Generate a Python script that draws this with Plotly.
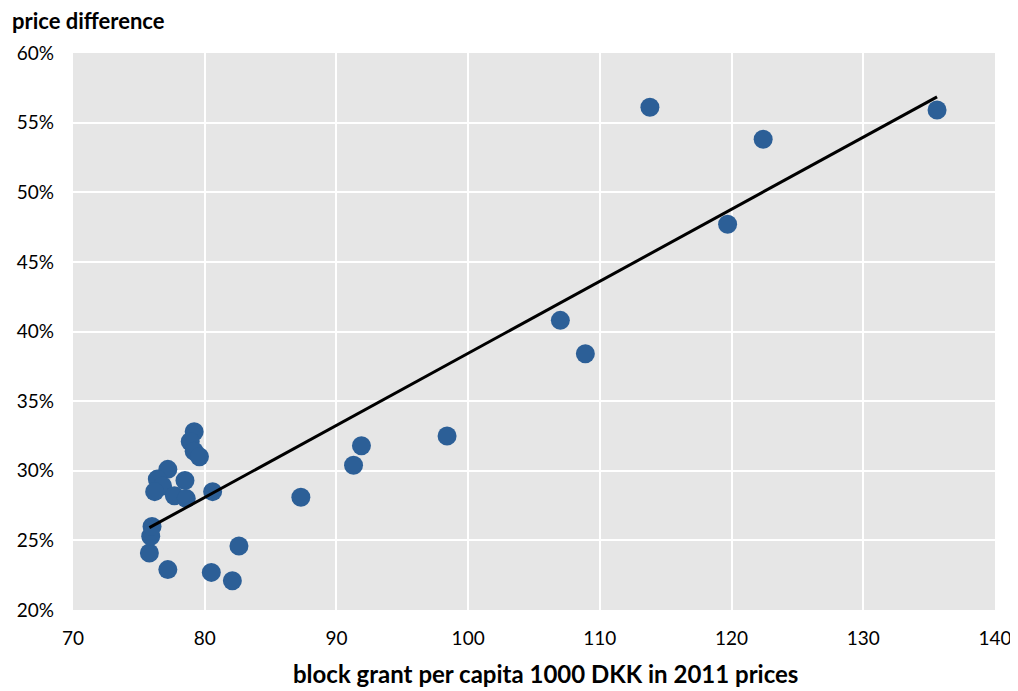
import numpy as np
import plotly.graph_objects as go

block_grant = [113.8, 135.6, 122.4, 119.7, 107.0, 108.9, 98.4, 91.9, 91.3, 87.3,
               82.6, 80.5, 82.1, 77.2, 75.8, 75.9, 76.0, 80.6,
               79.2, 78.9, 79.2, 79.6, 77.2, 76.4, 76.8, 78.5, 76.2, 77.7, 78.6]
price_diff = [56.1, 55.9, 53.8, 47.7, 40.8, 38.4, 32.5, 31.8, 30.4, 28.1,
              24.6, 22.7, 22.1, 22.9, 24.1, 25.3, 26.0, 28.5,
              32.8, 32.1, 31.4, 31.0, 30.1, 29.4, 28.9, 29.3, 28.5, 28.2, 28.0]

x = np.array(block_grant)
y = np.array(price_diff) / 100.0
slope, intercept = np.polyfit(x, y, 1)
xl = np.array([x.min(), x.max()])
yl = slope * xl + intercept

font = "Lato, 'Open Sans', sans-serif"

fig = go.Figure()
fig.add_trace(go.Scatter(x=x, y=y, mode="markers",
                         marker=dict(size=19, color="#2c5f97"),
                         showlegend=False, hoverinfo="x+y"))
fig.add_trace(go.Scatter(x=xl, y=yl, mode="lines",
                         line=dict(color="black", width=3),
                         showlegend=False))

fig.update_layout(
    width=1010, height=683,
    paper_bgcolor="white", plot_bgcolor="#e6e6e6",
    margin=dict(l=65, r=23, t=45, b=81, autoexpand=False),
    font=dict(family=font, size=19, color="black"),
    xaxis=dict(range=[70, 140], dtick=10, tick0=70, showgrid=True,
               gridcolor="white", gridwidth=2, zeroline=False, ticks="",
               showline=False, automargin=False, ticklabelstandoff=15),
    yaxis=dict(range=[0.20, 0.60], dtick=0.05, tickformat=".0%",
               showgrid=True, gridcolor="white", gridwidth=2, zeroline=False,
               ticks="", showline=False, ticklabelstandoff=18, automargin=False),
)
fig.add_annotation(text="<b>price difference</b>", xref="paper", yref="paper",
                   x=-63 / 922, y=1 + 33 / 557, xanchor="left", yanchor="middle",
                   showarrow=False, font=dict(size=22))
fig.add_annotation(text="<b>block grant per capita 1000 DKK in 2011 prices</b>",
                   xref="paper", yref="paper",
                   x=(545 - 73) / 922, y=-63 / 557, xanchor="center", yanchor="middle",
                   showarrow=False, font=dict(size=24))
fig.write_html("out.html")
